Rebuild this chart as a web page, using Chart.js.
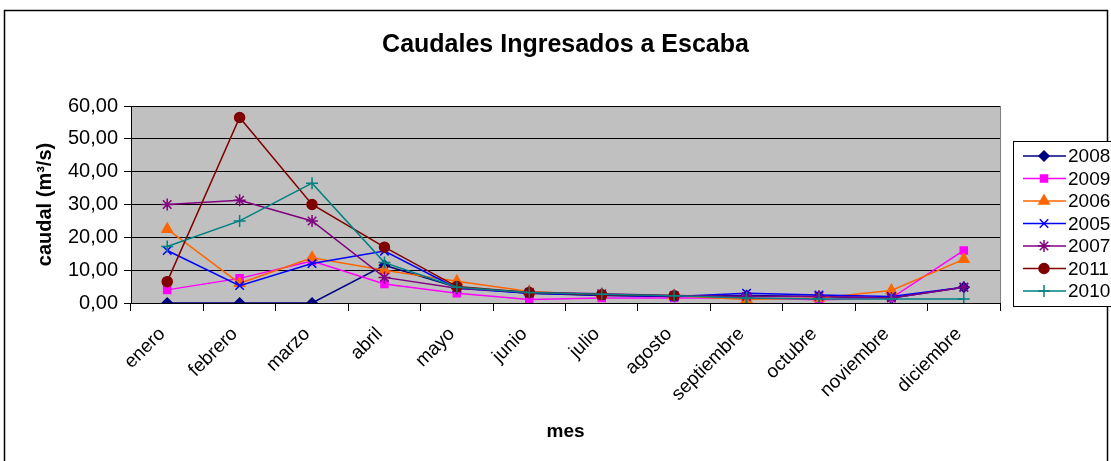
<!DOCTYPE html>
<html lang="es">
<head>
    <meta charset="UTF-8">
    <title>Caudales Ingresados a Escaba</title>
    <script src="https://cdn.jsdelivr.net/npm/chart.js"></script>
    <style>
        body { margin: 0; background: #fff; }
        canvas { display: block; }
    </style>
</head>
<body>
    <canvas id="caudalChart" width="1111" height="461"></canvas>
    <script>
        const titulo = "Caudales Ingresados a Escaba";
        const meses = ["enero", "febrero", "marzo", "abril", "mayo", "junio", "julio", "agosto", "septiembre", "octubre", "noviembre", "diciembre"];
        const anios = ["2008", "2009", "2006", "2005", "2007", "2011", "2010"];

        const c2008 = [0, 0, 0, 11.5, 4.8, 3.0, 2.3, 2.0, 2.3, 2.0, 1.5, 4.8];
        const c2009 = [4.0, 7.5, 12.8, 5.8, 3.0, 1.1, 1.5, 1.5, 1.5, 1.0, 1.5, 16.0];
        const c2006 = [22.5, 6.0, 13.8, 10.0, 6.6, 3.5, 2.5, 2.2, 1.1, 1.5, 3.8, 13.3];
        const c2005 = [16.0, 5.3, 12.0, 15.8, 4.5, 3.0, 2.4, 2.0, 3.0, 2.4, 2.0, 4.8];
        const c2007 = [30.0, 31.3, 25.0, 7.8, 4.5, 3.3, 2.8, 2.3, 2.0, 2.0, 1.5, 4.8];
        const c2011 = [6.5, 56.5, 30.0, 17.0, 5.0, 3.2, 2.5, 2.2, null, null, null, null];
        const c2010 = [17.2, 25.0, 36.5, 12.3, 4.8, 3.2, 2.7, 2.2, 1.5, 1.2, 1.2, 1.2];

        const series = [c2008, c2009, c2006, c2005, c2007, c2011, c2010];
        const colores = ["#000080", "#FF00FF", "#FF6600", "#0000FF", "#800080", "#800000", "#008080"];
        const marcas = ["rectRot", "rect", "triangle", "crossRot", "star", "circle", "cross"];
        const radios = [5, 5, 6, 6, 6, 5, 6];

        const fuente = "'Liberation Sans', Arial, sans-serif";

        const datasets = series.map((d, i) => ({
            label: anios[i],
            data: d,
            borderColor: colores[i],
            backgroundColor: colores[i],
            pointBackgroundColor: colores[i],
            pointBorderColor: colores[i],
            pointStyle: marcas[i],
            pointRadius: radios[i],
            pointBorderWidth: 1.5,
            borderWidth: 1.5,
            tension: 0,
            spanGaps: false,
            order: series.length - i
        }));

        const fondoPlugin = {
            id: "fondo",
            beforeDraw(chart) {
                const ctx = chart.ctx;
                const a = chart.chartArea;
                ctx.save();
                ctx.fillStyle = "#fff";
                ctx.fillRect(0, 0, chart.width, chart.height);
                ctx.strokeStyle = "#000";
                ctx.lineWidth = 1.5;
                ctx.strokeRect(4.5, 10.5, 1103, 470);
                ctx.fillStyle = "#C0C0C0";
                ctx.fillRect(a.left, a.top, a.right - a.left, a.bottom - a.top);
                ctx.strokeStyle = "#808080";
                ctx.lineWidth = 1;
                ctx.strokeRect(a.left + 0.5, a.top + 0.5, a.right - a.left, a.bottom - a.top);
                // titulo centrado sobre el area de trazado
                ctx.fillStyle = "#000";
                ctx.font = "bold 25px " + fuente;
                ctx.textAlign = "center";
                ctx.textBaseline = "middle";
                ctx.fillText(titulo, (a.left + a.right) / 2, 45);
                ctx.restore();
            }
        };

        const leyendaPlugin = {
            id: "leyenda",
            afterDraw(chart) {
                const ctx = chart.ctx;
                ctx.save();
                ctx.fillStyle = "#fff";
                ctx.fillRect(1013, 141, 110, 165);
                ctx.strokeStyle = "#000";
                ctx.lineWidth = 1;
                ctx.strokeRect(1013.5, 141.5, 110, 165);
                ctx.font = "19px " + fuente;
                ctx.textBaseline = "middle";
                anios.forEach((a, i) => {
                    const y = 156 + i * 22.5;
                    ctx.strokeStyle = colores[i];
                    ctx.lineWidth = 1.5;
                    ctx.beginPath();
                    ctx.moveTo(1023, y);
                    ctx.lineTo(1066, y);
                    ctx.stroke();
                    ctx.fillStyle = colores[i];
                    Chart.helpers.drawPoint(ctx, {
                        pointStyle: marcas[i],
                        radius: radios[i],
                        rotation: 0,
                        borderWidth: 1.5
                    }, 1044, y);
                    ctx.fillStyle = "#000";
                    ctx.fillText(a, 1068, y + 1);
                });
                ctx.restore();
            }
        };

        new Chart(document.getElementById("caudalChart"), {
            type: "line",
            data: { labels: meses, datasets: datasets },
            plugins: [fondoPlugin, leyendaPlugin],
            options: {
                responsive: false,
                animation: false,
                layout: { padding: { left: 33, right: 111, top: 106, bottom: 0 } },
                plugins: {
                    legend: { display: false },
                    tooltip: { enabled: false },
                    title: { display: false }
                },
                scales: {
                    x: {
                        offset: true,
                        afterFit(scale) { scale.height = 158; },
                        grid: { offset: true, drawOnChartArea: false, color: "#000", tickLength: 8 },
                        border: { color: "#000", width: 1 },
                        ticks: {
                            color: "#000",
                            maxRotation: 45,
                            minRotation: 45,
                            padding: 12,
                            labelOffset: -5,
                            font: { family: fuente, size: 19 }
                        },
                        title: {
                            display: true,
                            text: "mes",
                            color: "#000",
                            font: { family: fuente, size: 19, weight: "bold" },
                            padding: { top: 0, bottom: 18 }
                        }
                    },
                    y: {
                        min: 0,
                        max: 60,
                        afterFit(scale) { scale.width = 98; },
                        grid: { color: "#000", tickLength: 7, lineWidth: 1 },
                        border: { color: "#000", width: 1 },
                        ticks: {
                            stepSize: 10,
                            color: "#000",
                            padding: 6,
                            font: { family: fuente, size: 20 },
                            callback: v => v.toFixed(2).replace(".", ",")
                        },
                        title: {
                            display: true,
                            text: "caudal (m³/s)",
                            color: "#000",
                            font: { family: fuente, size: 20, weight: "bold" },
                            padding: { top: 0, bottom: 0 }
                        }
                    }
                }
            }
        });
    </script>
</body>
</html>
